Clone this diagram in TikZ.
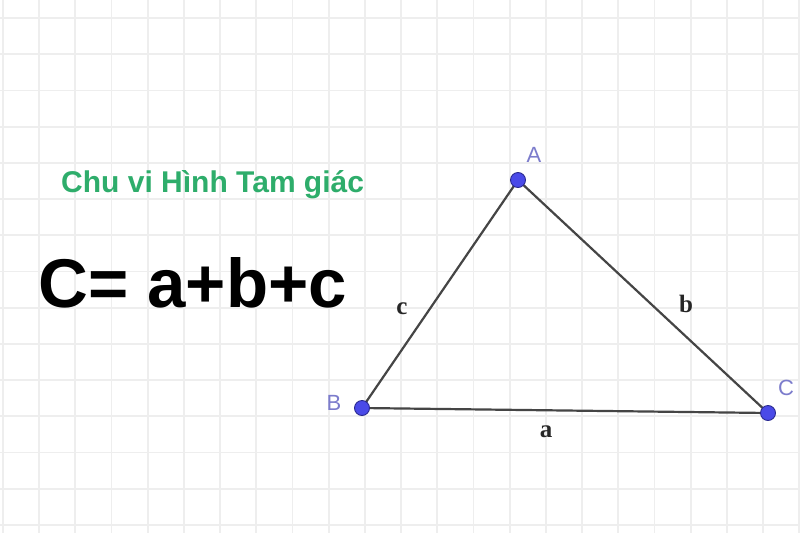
\documentclass[tikz,border=0pt]{standalone}
\usepackage{fontspec}
\setmainfont{Liberation Serif}
\newfontfamily\arialf{Liberation Sans}
\definecolor{gridc}{HTML}{EEEEEE}
\definecolor{titlec}{HTML}{2EAD6B}
\definecolor{ptfill}{HTML}{4A4AE8}
\definecolor{ptdraw}{HTML}{2A2A90}
\definecolor{lblc}{HTML}{7C7CCC}
\definecolor{sidec}{HTML}{454545}
\begin{document}
\begin{tikzpicture}[x=1pt,y=-1pt,
  vertex/.style={circle,fill=ptfill,draw=ptdraw,line width=0.9pt,minimum size=15pt,inner sep=0pt},
  side/.style={draw=sidec,line width=2.2pt},
  ptlabel/.style={font=\arialf\fontsize{22}{25}\selectfont,text=lblc,inner sep=0pt},
  sidelabel/.style={font=\fontsize{25}{28}\selectfont\bfseries,text=black!85,inner sep=0pt}]
\useasboundingbox (0,0) rectangle (800,533);
\fill[white] (0,0) rectangle (800,533);
\foreach \k in {0,...,22} \draw[gridc,line width=1.8pt] ({2.8+36.2*\k},0) -- ({2.8+36.2*\k},533);
\foreach \k in {0,...,14} \draw[gridc,line width=1.8pt] (0,{18+36.2*\k}) -- (800,{18+36.2*\k});
\node[anchor=base west,inner sep=0pt,font=\arialf\bfseries\fontsize{30}{34}\selectfont,text=titlec] (title) at (61,192) {Chu vi Hình Tam giác};
\node[anchor=base west,inner sep=0pt,font=\arialf\bfseries\fontsize{69}{76}\selectfont] (formula) at (38,307) {C= a+b+c};
\coordinate (pA) at (518,180);
\coordinate (pB) at (362,408);
\coordinate (pC) at (768,413);
\draw[side] (pB) -- (pA);
\draw[side] (pA) -- (pC);
\draw[side] (pB) -- (pC);
\node[vertex] (A) at (pA) {};
\node[vertex] (B) at (pB) {};
\node[vertex] (C) at (pC) {};
\node[ptlabel] (lA) at (534,155) {A};
\node[ptlabel] (lB) at (334,403) {B};
\node[ptlabel] (lC) at (786,388) {C};
\node[sidelabel] (la) at (546,432) {a};
\node[sidelabel] (lb) at (686,304) {b};
\node[sidelabel] (lc) at (402,309) {c};
\end{tikzpicture}
\end{document}
